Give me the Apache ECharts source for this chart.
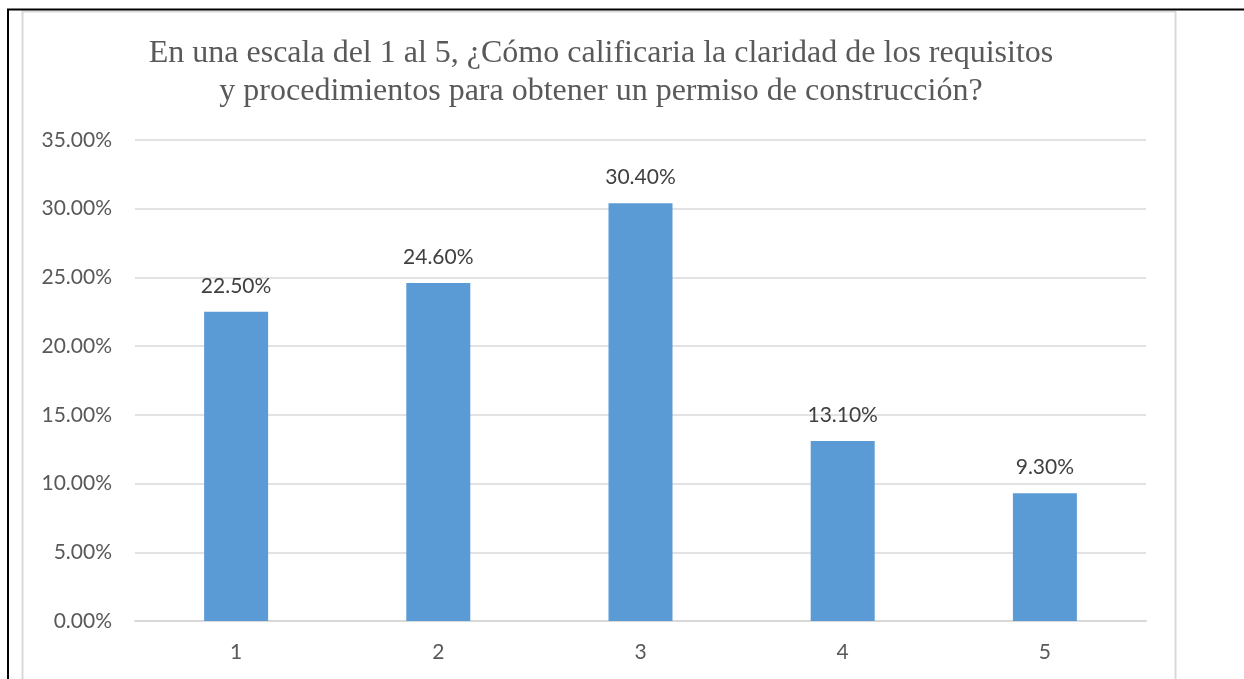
<!DOCTYPE html>
<html>
<head>
<meta charset="utf-8">
<script src="https://cdn.jsdelivr.net/npm/echarts@6/dist/echarts.min.js"></script>
<style>
  html, body { margin: 0; padding: 0; background: #fff; }
  #chart { width: 1244px; height: 679px; }
</style>
</head>
<body>
<div id="chart"></div>
<script>
// Rating scale categories and share of responses (%)
const categories = ['1', '2', '3', '4', '5'];
const values = [22.5, 24.6, 30.4, 13.1, 9.3];
const titleText = 'En una escala del 1 al 5, ¿Cómo calificaria la claridad de los requisitos\ny procedimientos para obtener un permiso de construcción?';

const chart = echarts.init(document.getElementById('chart'), null, { renderer: 'canvas' });

const labelFont = 'Lato, "Open Sans", sans-serif';

chart.setOption({
  backgroundColor: '#ffffff',
  animation: false,
  title: {
    text: titleText,
    left: 596,
    textAlign: 'center',
    top: 30,
    textStyle: {
      fontFamily: '"Liberation Serif", "DejaVu Serif", serif',
      fontSize: 32,
      fontWeight: 'normal',
      color: '#595959',
      lineHeight: 38
    }
  },
  graphic: [
    // outer chart frame (light gray)
    {
      type: 'rect', silent: true, z: -1,
      shape: { x: 22.5, y: 11.5, width: 1153, height: 720 },
      style: { fill: 'none', stroke: '#d9d9d9', lineWidth: 2 }
    },
    // page border lines
    {
      type: 'line', silent: true,
      shape: { x1: 7, y1: 9.5, x2: 1244, y2: 9.5 },
      style: { stroke: '#000', lineWidth: 2 }
    },
    {
      type: 'line', silent: true,
      shape: { x1: 8, y1: 9, x2: 8, y2: 679 },
      style: { stroke: '#000', lineWidth: 2 }
    }
  ],
  grid: {
    left: 135,
    right: 98,
    top: 140,
    bottom: 58,
    containLabel: false
  },
  xAxis: {
    type: 'category',
    data: categories,
    axisTick: { show: false },
    axisLine: { show: true, lineStyle: { color: '#d9d9d9', width: 2 } },
    axisLabel: {
      color: '#595959',
      fontFamily: labelFont,
      fontSize: 21,
      margin: 21
    }
  },
  yAxis: {
    type: 'value',
    min: 0,
    max: 35,
    interval: 5,
    axisLine: { show: false },
    axisTick: { show: false },
    splitLine: { lineStyle: { color: '#d9d9d9', width: 1.5 } },
    axisLabel: {
      color: '#595959',
      fontFamily: labelFont,
      fontSize: 21,
      margin: 23,
      formatter: v => v.toFixed(2) + '%'
    }
  },
  series: [{
    type: 'bar',
    data: values,
    barWidth: 64,
    itemStyle: { color: '#5b9bd5' },
    label: {
      show: true,
      position: 'top',
      distance: 15,
      color: '#404040',
      fontFamily: labelFont,
      fontSize: 21,
      formatter: p => p.value.toFixed(2) + '%'
    }
  }]
});
</script>
</body>
</html>
